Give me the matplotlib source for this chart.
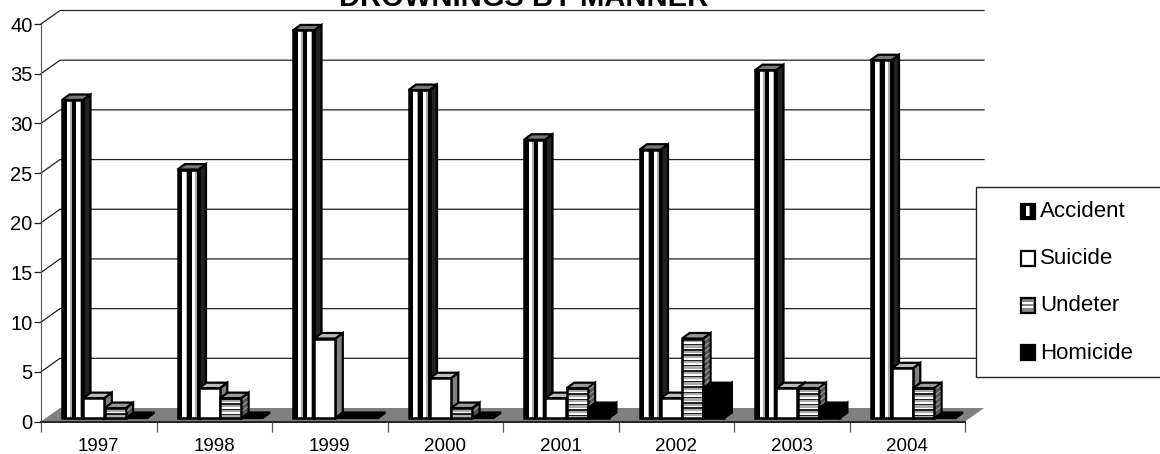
# drownings by manner, fake 3d columns
import matplotlib
matplotlib.use('Agg')
import matplotlib.pyplot as plt
from matplotlib.patches import Polygon, Rectangle

plt.rcParams['font.family'] = ['Liberation Sans', 'DejaVu Sans']

years = ['1997', '1998', '1999', '2000', '2001', '2002', '2003', '2004']
accident = [32, 25, 39, 33, 28, 27, 35, 36]
suicide = [2, 3, 8, 4, 2, 2, 3, 5]
undeter = [1, 2, 0, 1, 3, 8, 3, 3]
homicide = [0, 0, 0, 0, 1, 3, 1, 0]
names = ['Accident', 'Suicide', 'Undeter', 'Homicide']
series = [accident, suicide, undeter, homicide]

W = 1160; H = 454
x0 = 41; x1 = 965; y0 = 421.5; y40 = 24

fig = plt.figure(figsize=(W / 100, H / 100), dpi=100)
ax = fig.add_axes([x0 / W, 1 - y0 / H, (x1 - x0) / W, (y0 - y40) / H])
ax.set_xlim(0, 8)
ax.set_ylim(0, 40)
ax.patch.set_visible(False)

# pixel sizes in data units
ux = (x1 - x0) / 8
uy = (y0 - y40) / 40
wall_x = 19 / ux; wall_y = 13.5 / uy
side_x = 7.5 / ux; side_y = 5.5 / uy
bar_w = 21 / ux; bar_gap = 0.3 / ux
start = 21 / ux; lift = 3.5 / uy


def poly(pts, fc, ec='black', lw=1.0, z=3):
    ax.add_patch(Polygon(pts, closed=True, fc=fc, ec=ec, lw=lw, zorder=z, clip_on=False))


# floor and back wall lines
poly([(0, 0), (wall_x, wall_y), (8 + wall_x, wall_y), (8, 0)], '#808080', ec='none', z=1)
for v in range(5, 45, 5):
    ax.plot([0, wall_x, 8 + wall_x], [v, v + wall_y, v + wall_y], c='#222222', lw=0.9,
            zorder=1, clip_on=False)


def front_stripes(x, b, w, h, kind):
    if kind == 0:
        # vertical black / white / grey stripes
        steps = [(4.5, 'black'), (3.5, 'white'), (1.5, '#aaaaaa'), (4.5, 'black'),
                 (3.5, 'white'), (1.5, '#aaaaaa'), (2.0, 'black')]
        px = 0
        for s, c in steps:
            ax.add_patch(Rectangle((x + px / ux, b), s / ux, h, fc=c, ec='none', zorder=4, clip_on=False))
            px += s
    elif kind == 1:
        ax.add_patch(Rectangle((x, b), w, h, fc='white', ec='none', zorder=4, clip_on=False))
    elif kind == 2:
        # black, grey, white bands from the top down
        total = h * uy
        py = 0; n = 0
        bands = [(1.4, '#222222'), (2.3, '#aaaaaa'), (1.6, 'white')]
        while py < total:
            s0, c = bands[n % 3]
            s = min(s0, total - py)
            ax.add_patch(Rectangle((x, b + h - (py + s) / uy), w, s / uy, fc=c, ec='none', zorder=4, clip_on=False))
            py += s0; n += 1
    else:
        ax.add_patch(Rectangle((x, b), w, h, fc='black', ec='none', zorder=4, clip_on=False))


def draw_column(i, k, v):
    x = i + start + k * (bar_w + bar_gap)
    b = lift
    w = bar_w
    top = b + v
    side_c = ['#222222', '#808080', '#555555', 'black'][k]
    top_c = ['#777777', '#bbbbbb', '#999999', 'black'][k]
    if v == 0:
        top_c = 'black'
    # side and top faces
    poly([(x + w, b), (x + w + side_x, b + side_y), (x + w + side_x, top + side_y), (x + w, top)], side_c, lw=1.6, z=4)
    poly([(x, top), (x + side_x, top + side_y), (x + w + side_x, top + side_y), (x + w, top)], top_c, lw=1.6, z=4)
    if v > 0:
        front_stripes(x, b, w, v, k)
        ax.add_patch(Rectangle((x, b), w, v, fc='none', ec='black', lw=1.8, zorder=4, clip_on=False))
    if k == 2 and v > 0:
        # grey bands on the side face
        py = 0
        while py < v * uy:
            frac = py / uy
            poly([(x + w + 1.5 / ux, b + frac + 1 / uy), (x + w + side_x - 1 / ux, b + frac + 5 / uy),
                  (x + w + side_x - 1 / ux, b + frac + 6.5 / uy), (x + w + 1.5 / ux, b + frac + 2.5 / uy)],
                 '#999999', ec='none', z=4)
            py += 5.4


for i in range(len(years)):
    for k, s in enumerate(series):
        draw_column(i, k, s[i])

# axes
for side in ['top', 'right']:
    ax.spines[side].set_visible(False)
ax.spines['left'].set_color('#555555')
ax.spines['bottom'].set_color('#222222')
ax.spines['bottom'].set_linewidth(1.4)
ax.set_yticks(range(0, 45, 5))
ax.tick_params(axis='y', length=5, width=0.9, labelsize=14.5, pad=1, color='#222222')
ax.set_xticks(range(9))
ax.set_xticklabels([])
ax.set_xticks([i + 0.5 for i in range(8)], minor=True)
ax.set_xticklabels(years, minor=True, fontsize=13.5)
ax.tick_params(axis='x', which='major', length=7, width=0.9, color='#555555')
ax.tick_params(axis='x', which='minor', length=0, pad=12)

# overlay in pixels for title and legend
ov = fig.add_axes([0, 0, 1, 1], zorder=5)
ov.set_xlim(0, W)
ov.set_ylim(H, 0)
ov.axis('off')
ov.text(524, 6.5, 'DROWNINGS BY MANNER', ha='center', va='baseline', fontsize=21, fontweight='bold')
ov.add_patch(Rectangle((976, 187), 200, 190, fc='white', ec='#222222', lw=1.0, clip_on=True))
for k, name in enumerate(names):
    cy = 211 + k * 47.2
    fc = ['black', 'white', '#888888', 'black'][k]
    ov.add_patch(Rectangle((1020.5, cy - 7.5), 14, 15, fc=fc, ec='black', lw=1.6))
    if k == 0:
        ov.add_patch(Rectangle((1026, cy - 5), 2.5, 10, fc='white', ec='none'))
        ov.add_patch(Rectangle((1028.5, cy - 5), 1.5, 10, fc='#999999', ec='none'))
    if k == 2:
        for o in [-3, 1]:
            ov.add_patch(Rectangle((1022, cy + o), 11, 1.5, fc='white', ec='none'))
    ov.text(1040, cy + 0.5, name, ha='left', va='center', fontsize=16)

plt.savefig('out.png', dpi=100)
